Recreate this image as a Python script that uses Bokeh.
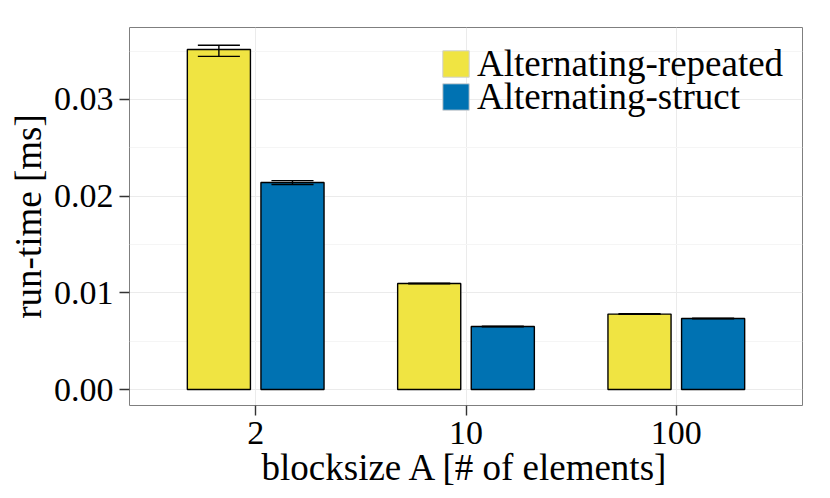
from bokeh.plotting import figure
from bokeh.models import ColumnDataSource, FixedTicker, Range1d, Legend, LegendItem, NumeralTickFormatter
from bokeh.embed import file_html
from bokeh.resources import INLINE

categories = ["2", "10", "100"]
series_names = ["Alternating-repeated", "Alternating-struct"]
repeated = [0.03516, 0.01096, 0.00780]
repeated_lo = [0.03444, 0.01093, 0.00777]
repeated_hi = [0.03560, 0.01099, 0.00783]
struct = [0.02140, 0.00651, 0.00734]
struct_lo = [0.02120, 0.00648, 0.00731]
struct_hi = [0.02160, 0.00654, 0.00737]
y_ticks = [0.0, 0.01, 0.02, 0.03]
y_minor = [0.005, 0.015, 0.025, 0.035]

FONT = "Liberation Serif"
colors = ["#F0E442", "#0072B2"]
dodge = 0.175
bar_w = 0.3
cap_w = 0.2

xs = list(range(1, len(categories) + 1))

p = figure(width=822, height=490, output_backend="svg", toolbar_location=None,
           x_range=Range1d(0.4, 3.6), y_range=Range1d(-0.00165, 0.03743),
           min_border_left=129, min_border_right=20, min_border_top=27, min_border_bottom=85)

for i, (vals, lo, hi) in enumerate([(repeated, repeated_lo, repeated_hi), (struct, struct_lo, struct_hi)]):
    off = -dodge if i == 0 else dodge
    cx = [x + off for x in xs]
    src = ColumnDataSource(dict(x=cx, top=vals, lo=lo, hi=hi,
                                x0=[c - cap_w / 2 for c in cx], x1=[c + cap_w / 2 for c in cx]))
    p.vbar(x="x", top="top", bottom=0, width=bar_w, source=src,
           fill_color=colors[i], line_color="black", line_width=1.4)
    p.segment(x0="x", x1="x", y0="lo", y1="hi", source=src, line_color="black", line_width=1.4)
    p.segment(x0="x0", x1="x1", y0="lo", y1="lo", source=src, line_color="black", line_width=1.4)
    p.segment(x0="x0", x1="x1", y0="hi", y1="hi", source=src, line_color="black", line_width=1.4)

legend_r = []
for i in range(2):
    lr = p.rect(x=[0], y=[0], width=0, height=0, fill_color=colors[i],
                line_color="#d0d0d0", line_width=1)
    legend_r.append(lr)

# one legend per entry so the colour keys can touch each other
legend_y = [320.5, 287.5]
for i in range(2):
    lg = Legend(items=[LegendItem(label=series_names[i], renderers=[legend_r[i]])],
                location=(310, legend_y[i]), orientation="vertical")
    lg.glyph_width = 33
    lg.glyph_height = 33
    lg.label_height = 33
    lg.label_width = 10
    lg.spacing = 0
    lg.padding = 0
    lg.margin = 0
    lg.label_standoff = 5
    lg.label_text_font = FONT
    lg.label_text_font_size = "37px"
    lg.label_text_color = "black"
    lg.background_fill_alpha = 0
    lg.border_line_color = None
    lg.label_text_baseline = "middle"
    p.add_layout(lg, "center")

p.outline_line_color = "#7f7f7f"
p.outline_line_width = 1
p.background_fill_color = "white"

p.xaxis.ticker = FixedTicker(ticks=xs)
p.xaxis.major_label_overrides = {x: c for x, c in zip(xs, categories)}
p.yaxis.ticker = FixedTicker(ticks=y_ticks, minor_ticks=y_minor)
p.yaxis.formatter = NumeralTickFormatter(format="0.00")

for ax in [p.xaxis, p.yaxis]:
    ax.axis_line_color = None
    ax.major_tick_line_color = "#333333"
    ax.major_tick_line_width = 1.4
    ax.major_tick_in = 0
    ax.major_tick_out = 10
    ax.minor_tick_line_color = None
    ax.major_label_text_font = FONT
    ax.major_label_text_font_size = "34px"
    ax.major_label_text_color = "black"
    ax.axis_label_text_font = FONT
    ax.axis_label_text_font_size = "37px"
    ax.axis_label_text_font_style = "normal"
    ax.axis_label_text_color = "black"
p.yaxis.major_label_standoff = 6
p.xaxis.major_label_standoff = 6
p.xaxis.axis_label = "blocksize A [# of elements]"
p.yaxis.axis_label = "run-time [ms]"
p.xaxis.axis_label_standoff = 0
p.yaxis.axis_label_standoff = 2

p.xgrid.grid_line_color = "#ebebeb"
p.xgrid.grid_line_width = 1
p.ygrid.grid_line_color = "#ebebeb"
p.ygrid.grid_line_width = 1
p.ygrid.minor_grid_line_color = "#f5f5f5"
p.ygrid.minor_grid_line_width = 1

open("out.html", "w").write(file_html(p, INLINE))
